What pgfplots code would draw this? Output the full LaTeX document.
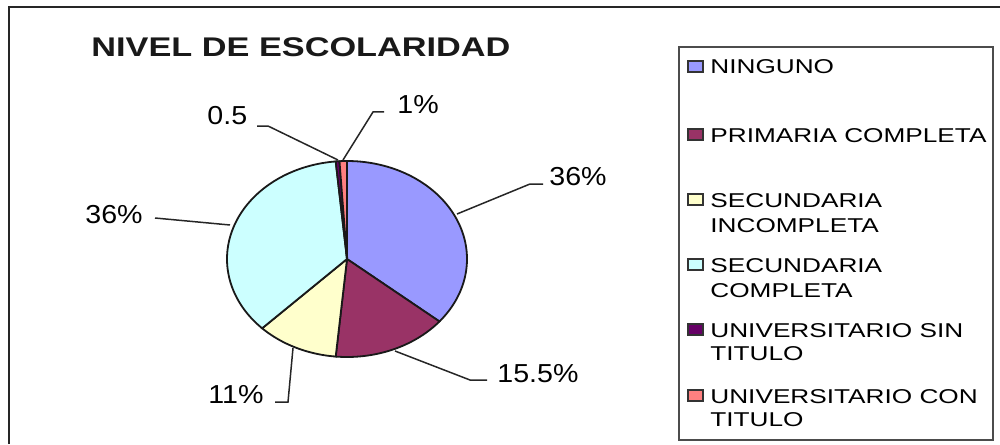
\documentclass[border=0pt]{standalone}
\usepackage{pgfplots}
\pgfplotsset{compat=1.18}
\usepackage{fontspec}
\setmainfont{Liberation Sans}
\newfontfamily\titlefont{Liberation Sans}[FakeStretch=1.27]
\newfontfamily\legfont{Liberation Sans}[FakeStretch=1.31]
\newfontfamily\labfont{Liberation Sans}[FakeStretch=1.1]
\definecolor{cA}{HTML}{9999FF}
\definecolor{cB}{HTML}{993366}
\definecolor{cC}{HTML}{FFFFCC}
\definecolor{cD}{HTML}{CCFFFF}
\definecolor{cE}{HTML}{660066}
\definecolor{cF}{HTML}{FF8080}
% data (percent)
\def\vA{36}   % NINGUNO
\def\vB{15.5} % PRIMARIA COMPLETA
\def\vC{11}   % SECUNDARIA INCOMPLETA
\def\vD{36}   % SECUNDARIA COMPLETA
\def\vE{0.5}  % UNIVERSITARIO SIN TITULO
\def\vF{1}    % UNIVERSITARIO CON TITULO
\pgfmathsetmacro\aA{90}
\pgfmathsetmacro\aB{\aA-3.6*\vA}
\pgfmathsetmacro\aC{\aB-3.6*\vB}
\pgfmathsetmacro\aD{\aC-3.6*\vC}
\pgfmathsetmacro\aE{\aD-3.6*\vD}
\pgfmathsetmacro\aF{\aE-3.6*\vE}
\pgfmathsetmacro\aG{\aF-3.6*\vF}
\newcommand\lab[1]{{\labfont\fontsize{13}{15}\selectfont #1}}
\newcommand\leg[1]{{\legfont\fontsize{10}{12}\selectfont #1}}
\begin{document}
\begin{tikzpicture}
\begin{axis}[width=500pt,height=222pt,scale only axis,
  xmin=0,xmax=1000,ymin=0,ymax=444,y dir=reverse,
  hide axis,clip=false]
% outer frame
\draw[line width=1pt,black!85] (9,444) -- (9,7) -- (1000,7);
% title
\node[anchor=base west,inner sep=0pt,text=black!90] at (91,57)
  {\titlefont\bfseries\fontsize{13.5}{16}\selectfont NIVEL DE ESCOLARIDAD};
% pie slices
\addplot[fill=cA,draw=black!90,line width=0.9pt,domain=\aB:\aA,samples=80]
  ({347+120*cos(x)},{259-98*sin(x)}) -- (347,259) -- cycle;
\addplot[fill=cB,draw=black!90,line width=0.9pt,domain=\aC:\aB,samples=60]
  ({347+120*cos(x)},{259-98*sin(x)}) -- (347,259) -- cycle;
\addplot[fill=cC,draw=black!90,line width=0.9pt,domain=\aD:\aC,samples=60]
  ({347+120*cos(x)},{259-98*sin(x)}) -- (347,259) -- cycle;
\addplot[fill=cD,draw=black!90,line width=0.9pt,domain=\aE:\aD,samples=80]
  ({347+120*cos(x)},{259-98*sin(x)}) -- (347,259) -- cycle;
\addplot[fill=cE,draw=black!90,line width=0.9pt,domain=\aF:\aE,samples=5]
  ({347+120*cos(x)},{259-98*sin(x)}) -- (347,259) -- cycle;
\addplot[fill=cF,draw=black!90,line width=0.9pt,domain=\aG:\aF,samples=5]
  ({347+120*cos(x)},{259-98*sin(x)}) -- (347,259) -- cycle;
% leader lines
\draw[line width=0.75pt,black!85] (457,214) -- (530,184) -- (543,184);
\draw[line width=0.75pt,black!85] (395,351) -- (470,380) -- (487,380);
\draw[line width=0.75pt,black!85] (293,348) -- (288,402) -- (275,402);
\draw[line width=0.75pt,black!85] (230,225) -- (155,218);
\draw[line width=0.75pt,black!85] (338,160) -- (268,126) -- (257,126);
\draw[line width=0.75pt,black!85] (343,160) -- (373,112) -- (384,112);
% data labels
\node[anchor=base west,inner sep=0pt] at (549,185) {\lab{36\%}};
\node[anchor=base west,inner sep=0pt] at (497,382) {\lab{15.5\%}};
\node[anchor=base west,inner sep=0pt] at (208,403) {\lab{11\%}};
\node[anchor=base west,inner sep=0pt] at (85,223) {\lab{36\%}};
\node[anchor=base west,inner sep=0pt] at (207,125) {\lab{0.5}};
\node[anchor=base west,inner sep=0pt] at (397,113) {\lab{1\%}};
% legend
\draw[line width=0.75pt,black!70] (679,47) rectangle (993,440);
\draw[fill=cA,draw=black!80,line width=0.7pt] (688,61) rectangle (703,72);
\draw[fill=cB,draw=black!80,line width=0.7pt] (688,129) rectangle (703,140);
\draw[fill=cC,draw=black!80,line width=0.7pt] (688,194) rectangle (703,205);
\draw[fill=cD,draw=black!80,line width=0.7pt] (688,259) rectangle (703,270);
\draw[fill=cE,draw=black!80,line width=0.7pt] (688,324) rectangle (703,335);
\draw[fill=cF,draw=black!80,line width=0.7pt] (688,390) rectangle (703,401);
\node[anchor=base west,inner sep=0pt] at (710,74) {\leg{NINGUNO}};
\node[anchor=base west,inner sep=0pt] at (710,142) {\leg{PRIMARIA COMPLETA}};
\node[anchor=base west,inner sep=0pt] at (710,207) {\leg{SECUNDARIA}};
\node[anchor=base west,inner sep=0pt] at (710,232) {\leg{INCOMPLETA}};
\node[anchor=base west,inner sep=0pt] at (710,272) {\leg{SECUNDARIA}};
\node[anchor=base west,inner sep=0pt] at (710,297) {\leg{COMPLETA}};
\node[anchor=base west,inner sep=0pt] at (710,337) {\leg{UNIVERSITARIO SIN}};
\node[anchor=base west,inner sep=0pt] at (710,360) {\leg{TITULO}};
\node[anchor=base west,inner sep=0pt] at (710,403) {\leg{UNIVERSITARIO CON}};
\node[anchor=base west,inner sep=0pt] at (710,426) {\leg{TITULO}};
\end{axis}
\pgfresetboundingbox
\path (current axis.south west) rectangle (current axis.north east);
\end{tikzpicture}
\end{document}
